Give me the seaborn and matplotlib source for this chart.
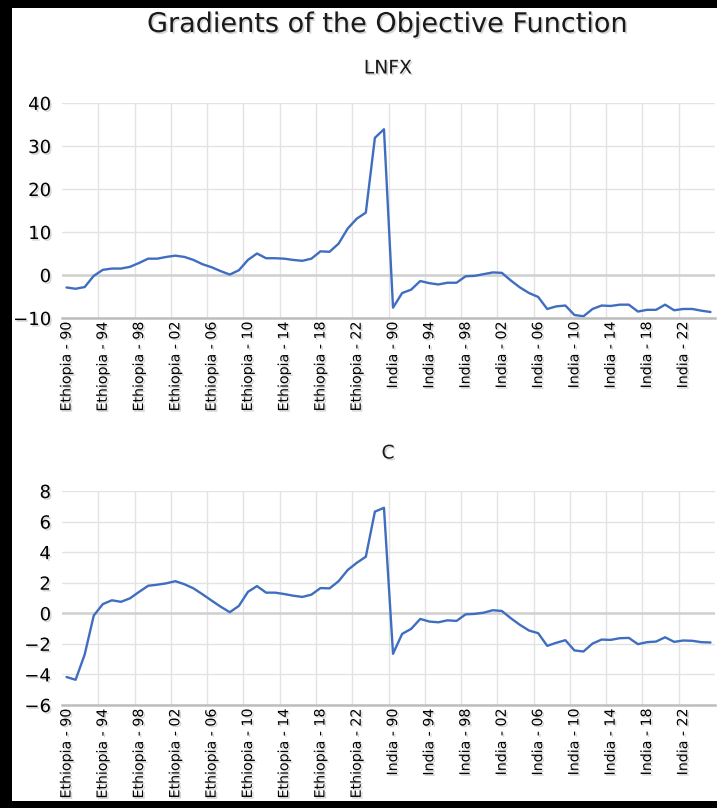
import matplotlib
matplotlib.use("Agg")
import matplotlib.pyplot as plt
import matplotlib.patheffects as pe
from matplotlib.patches import Rectangle
from matplotlib.ticker import FixedLocator, MultipleLocator
import numpy as np
import pandas as pd
import seaborn as sns

# ---- data -------------------------------------------------------------
countries = ["Ethiopia", "India"]
years = ["90", "91", "92", "93", "94", "95", "96", "97", "98", "99",
         "00", "01", "02", "03", "04", "05", "06", "07", "08", "09",
         "10", "11", "12", "13", "14", "15", "16", "17", "18", "19",
         "20", "21", "22", "23", "24", "25"]

lnfx_ethiopia = [-2.9, -3.2, -2.8, -0.2, 1.2, 1.5, 1.5, 1.9, 2.8, 3.8,
                 3.8, 4.2, 4.5, 4.2, 3.5, 2.5, 1.8, 0.9, 0.1, 1.1,
                 3.5, 5.0, 3.9, 3.9, 3.8, 3.5, 3.3, 3.8, 5.5, 5.4,
                 7.3, 10.8, 13.1, 14.5, 31.9, 33.9]
lnfx_india = [-7.6, -4.2, -3.4, -1.4, -1.9, -2.2, -1.8, -1.8, -0.3, -0.2,
              0.2, 0.6, 0.5, -1.3, -2.9, -4.2, -5.1, -7.9, -7.3, -7.1,
              -9.3, -9.6, -7.9, -7.1, -7.2, -6.9, -6.9, -8.5, -8.1, -8.1,
              -6.9, -8.2, -7.9, -7.9, -8.3, -8.6]

c_ethiopia = [-4.17, -4.35, -2.7, -0.15, 0.6, 0.85, 0.75, 0.98, 1.4, 1.8,
              1.87, 1.96, 2.1, 1.9, 1.63, 1.24, 0.83, 0.43, 0.07, 0.48,
              1.4, 1.78, 1.35, 1.35, 1.26, 1.15, 1.07, 1.22, 1.65, 1.63,
              2.1, 2.83, 3.3, 3.7, 6.65, 6.9]
c_india = [-2.65, -1.35, -1.02, -0.37, -0.54, -0.59, -0.46, -0.5, -0.07, -0.04,
           0.04, 0.2, 0.15, -0.33, -0.76, -1.13, -1.3, -2.13, -1.93, -1.76,
           -2.43, -2.5, -1.98, -1.72, -1.74, -1.63, -1.61, -2.02, -1.89, -1.85,
           -1.57, -1.87, -1.78, -1.8, -1.89, -1.91]

labels = [f"{c} - {y}" for c in countries for y in years]
df = pd.DataFrame({
    "label": labels,
    "pos": np.arange(len(labels)),
    "LNFX": lnfx_ethiopia + lnfx_india,
    "C": c_ethiopia + c_india,
})

# ---- style ------------------------------------------------------------
sns.set_theme(style="white")
plt.rcParams["font.family"] = ["DejaVu Sans"]
LINE = "#3F6EC0"
GRID = "#e3e3e3"
shadow = [pe.withSimplePatchShadow(offset=(1.2, -1.2), shadow_rgbFace="0.45", alpha=0.3)]

W, H = 717, 808
fig = plt.figure(figsize=(W / 100, H / 100), dpi=100)
fig.patch.set_facecolor("white")


def panel(top_px, bottom_px, column, ymin, ymax, ystep):
    ax = fig.add_axes([62 / W, 1 - bottom_px / H, (715 - 62) / W, (bottom_px - top_px) / H])
    sns.lineplot(data=df, x="pos", y=column, ax=ax, color=LINE, linewidth=1.7)
    n = len(df)
    ax.set_xlim(-0.5, n - 0.5)
    ax.set_ylim(ymin, ymax)
    ax.yaxis.set_major_locator(MultipleLocator(ystep))
    ax.set_xticks(df["pos"][::4])
    ax.set_xticklabels(df["label"][::4], rotation=90, fontsize=10.2)
    ax.xaxis.set_minor_locator(FixedLocator(np.arange(3.5, n - 1, 4)))
    ax.grid(True, which="minor", axis="x", color=GRID, linewidth=1.0)
    ax.grid(True, which="major", axis="y", color=GRID, linewidth=1.0)
    ax.axhline(0, color="#d0d0d0", linewidth=1.8, zorder=1)
    ax.set_xlabel("")
    ax.set_ylabel("")
    for s in ["top", "right", "left"]:
        ax.spines[s].set_visible(False)
    ax.spines["bottom"].set_color("#bdbdbd")
    ax.spines["bottom"].set_linewidth(1.8)
    ax.tick_params(axis="x", which="both", length=0, pad=2.5)
    ax.tick_params(axis="y", length=0, pad=8, labelsize=13)
    for t in ax.get_xticklabels() + ax.get_yticklabels():
        t.set_path_effects(shadow)
        t.set_color("black")
    return ax


ax1 = panel(103, 318, "LNFX", -10, 40, 10)
ax2 = panel(491, 705, "C", -6, 8, 2)

fig.text(388 / W, 1 - 25 / H, "Gradients of the Objective Function", ha="center", va="center",
         fontsize=19.5, color="#1a1a1a", path_effects=shadow)
fig.text(388 / W, 1 - 68 / H, "LNFX", ha="center", va="center", fontsize=13.5,
         color="#1a1a1a", path_effects=shadow)
fig.text(388 / W, 1 - 453 / H, "C", ha="center", va="center", fontsize=13.5,
         color="#1a1a1a", path_effects=shadow)

# dark frame along the left, top and bottom edges
for x0, y0, w, h in [(0, 0, 12, H), (0, H - 8, W, 8), (0, 0, W, 7)]:
    fig.patches.append(Rectangle((x0 / W, y0 / H), w / W, h / H, transform=fig.transFigure,
                                 facecolor="black", edgecolor="none", zorder=10))

fig.savefig("out.png", dpi=100)
